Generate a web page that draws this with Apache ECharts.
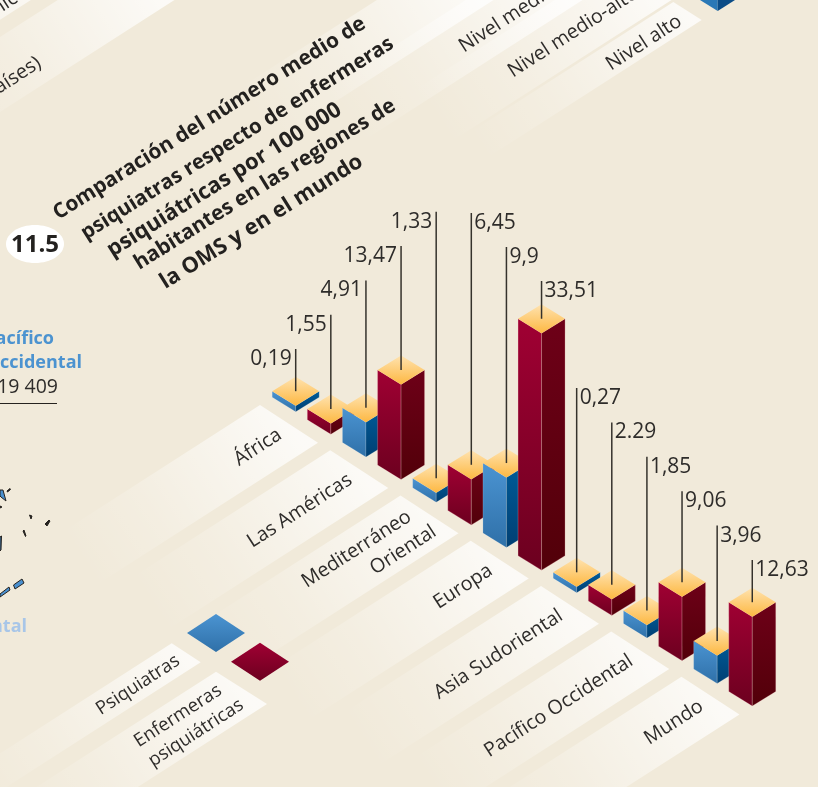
<!DOCTYPE html>
<html>
<head>
<meta charset="utf-8">
<title>11.5</title>
<style>
  html, body { margin: 0; padding: 0; background: #F1EADA; }
  #chart { width: 818px; height: 787px; }
</style>
<script src="https://cdn.jsdelivr.net/npm/echarts@6/dist/echarts.min.js"></script>
</head>
<body>
<div id="chart"></div>
<script>
// datos
const categories = ['África', 'Las Américas', 'Mediterráneo\nOriental', 'Europa', 'Asia Sudoriental', 'Pacífico Occidental', 'Mundo'];
const psychiatrists = [0.19, 4.91, 1.33, 9.9, 0.27, 1.85, 3.96];
const nurses = [1.55, 13.47, 6.45, 33.51, 2.29, 9.06, 12.63];
const psychiatristLabels = ['0,19', '4,91', '1,33', '9,9', '0,27', '1,85', '3,96'];
const nurseLabels = ['1,55', '13,47', '6,45', '33,51', '2.29', '9,06', '12,63'];
const titleLines = ['Comparación del número medio de', 'psiquiatras respecto de enfermeras', 'psiquiátricas por 100 000', 'habitantes en las regiones de', 'la OMS y en el mundo'];

// isometric projection
const STEP_Y = 22.64;     // each bar slides down this much
const HALF_W = 23.5;
const HALF_H = 14.5;
const MIN_H = 6;          // thin bars keep a visible side, like barMinHeight
const ANGLE = 32.8 * Math.PI / 180;
const TITLE_ANGLE = 32 * Math.PI / 180;
const FONT = '"Open Sans", sans-serif';
const BG = '#F1EADA';
const LABEL_SIZE = 19.7;

const bars = [];
categories.forEach((c, i) => {
  bars.push([i * 2, psychiatrists[i], 0, psychiatristLabels[i]]);
  bars.push([i * 2 + 1, nurses[i], 1, nurseLabels[i]]);
});

function vGrad(a, b) {
  return new echarts.graphic.LinearGradient(0, 0, 0, 1, [{offset: 0, color: a}, {offset: 1, color: b}]);
}

const faces = [
  {left: ['#4B94D2', '#2F70A8'], right: ['#005C99', '#003F73']},
  {left: ['#A00033', '#6C001F'], right: ['#6E0018', '#520009']}
];

// the three groups of leader lines climb and fall in steps
function leaderTop(i) {
  if (i <= 4) return 349 - 34.3 * i;
  if (i <= 7) return 213 + 34 * (i - 5);
  return 388 + 34.4 * (i - 8);
}

function renderBar(params, api) {
  const i = api.value(0);
  const kind = api.value(2);
  const base = api.coord([i, 0]);
  const x = base[0];
  const yb = base[1] + i * STEP_Y;
  const h = Math.max(base[1] - api.coord([i, api.value(1)])[1], MIN_H);
  const yt = yb - h;
  const edge = kind ? 'rgba(255,205,205,0.4)' : 'rgba(255,255,255,0.25)';
  const top = leaderTop(i);
  const onLeft = i <= 4;
  return {
    type: 'group',
    children: [
      {type: 'polygon', shape: {points: [[x - HALF_W, yt - HALF_H], [x, yt], [x, yb], [x - HALF_W, yb - HALF_H]]},
        style: {fill: vGrad(faces[kind].left[0], faces[kind].left[1]), stroke: edge, lineWidth: 0.6}},
      {type: 'polygon', shape: {points: [[x, yt], [x + HALF_W, yt - HALF_H], [x + HALF_W, yb - HALF_H], [x, yb]]},
        style: {fill: vGrad(faces[kind].right[0], faces[kind].right[1]), stroke: edge, lineWidth: 0.6}},
      {type: 'polygon', shape: {points: [[x, yt - 2 * HALF_H], [x + HALF_W, yt - HALF_H], [x, yt], [x - HALF_W, yt - HALF_H]]},
        style: {fill: vGrad('#FFE3B0', '#FDB842')}},
      {type: 'line', shape: {x1: x, y1: top, x2: x, y2: yt - HALF_H},
        style: {stroke: '#35322C', lineWidth: 1.5}},
      {type: 'text', style: {
        x: onLeft ? x - 4 : x + 3, y: top + 10,
        text: api.value(3), align: onLeft ? 'right' : 'left', verticalAlign: 'middle',
        fontFamily: FONT, fontSize: 21, fill: '#2E2C2A'
      }}
    ]
  };
}

function stripFill(tx, ty) {
  return new echarts.graphic.LinearGradient(tx, ty, tx - 210, ty + 135, [
    {offset: 0, color: 'rgba(255,255,255,0.78)'},
    {offset: 0.3, color: 'rgba(255,255,255,0.5)'},
    {offset: 0.65, color: 'rgba(255,255,255,0.2)'},
    {offset: 1, color: 'rgba(255,255,255,0)'}
  ], true);
}

function stripPoints(tx, ty, w, h) {
  return [[tx, ty], [tx + w, ty + h], [tx + w - 260, ty + h + 167], [tx - 260, ty + 167]];
}

function renderStrip(params, api) {
  const i = api.value(0);
  const base = api.coord([i, 0]);
  const tx = base[0] - 35.7;
  const ty = base[1] + i * STEP_Y - 6.7;
  const lines = categories[i / 2].split('\n');
  const two = lines.length > 1;
  const ex = tx + 20;
  const ey = ty + 28;
  const children = [{
    type: 'polygon', shape: {points: stripPoints(tx, ty, 58, 37.7)},
    style: {fill: stripFill(tx + 29, ty + 19)}
  }];
  lines.forEach((text, j) => {
    // the two line label is not flush right in the original
    const back = (lines.length - 1 - j) * 13 - (two ? 8.3 : 0);
    const perp = (j - (lines.length - 1) / 2) * 26;
    children.push({
      type: 'text',
      x: ex - back * Math.cos(ANGLE) + perp * Math.sin(ANGLE),
      y: ey + back * Math.sin(ANGLE) + perp * Math.cos(ANGLE),
      rotation: ANGLE,
      style: {text: text, x: 0, y: 0, align: 'right', verticalAlign: 'middle', fontFamily: FONT, fontSize: LABEL_SIZE, fill: '#2E2C2A'}
    });
  });
  return {type: 'group', children: children};
}

function rotText(text, x, y, opts) {
  return {
    type: 'text', x: x, y: y, rotation: ANGLE, z: 5,
    style: Object.assign({text: text, x: 0, y: 0, align: 'left', verticalAlign: 'middle',
      fontFamily: FONT, fontSize: LABEL_SIZE, fill: '#2E2C2A'}, opts || {})
  };
}

function plainText(text, x, y, opts) {
  return {
    type: 'text', z: 5,
    style: Object.assign({text: text, x: x, y: y, align: 'right', verticalAlign: 'middle',
      fontFamily: FONT, fontSize: 18, fill: '#2E2C2A'}, opts || {})
  };
}

function strip(tx, ty, w, h) {
  return {type: 'polygon', z: 1, shape: {points: stripPoints(tx, ty, w, h)}, style: {fill: stripFill(tx + w / 2, ty + h / 2)}};
}

function diamond(cx, cy, colors) {
  return {type: 'polygon', z: 3, shape: {points: [[cx, cy - 19], [cx + 29, cy], [cx, cy + 19], [cx - 29, cy]]},
    style: {fill: vGrad(colors[0], colors[1])}};
}

function mark(points, fill) {
  return {type: 'polygon', z: 3, shape: {points: points}, style: {fill: fill, stroke: '#26231F', lineWidth: 1}};
}

const titleStart = [[55, 215], [83, 235], [109, 252], [136, 265], [162, 284]];
const titleSizes = [20.8, 20.5, 22, 20.8, 21.8];
const graphics = [
  // restos de los paneles vecinos
  strip(673.3, 2, 28.4, 18),
  strip(614, -38, 58, 37.7),
  strip(525, -38, 58, 37.7),
  strip(436, -38, 58, 37.7),
  strip(120, -40, 58, 37.7),
  strip(32, -40, 30, 20),
  rotText('Nivel alto', 608, 66),
  rotText('Nivel medio-alto', 510, 73),
  rotText('Nivel medio-bajo', 461, 48),
  rotText('(países)', -19, 99),
  rotText('Técnicos', -33, 28),
  {type: 'polygon', z: 3, shape: {points: [[700, 0], [717.7, 11], [717.7, -10]]}, style: {fill: '#2A78B6'}},
  {type: 'polygon', z: 3, shape: {points: [[717.7, 11], [735, 0], [717.7, -10]]}, style: {fill: '#0B4C86'}},
  plainText('Pacífico', 54, 339, {fontWeight: 700, fill: '#4C93D0'}),
  plainText('Occidental', 82, 362.5, {fontWeight: 700, fill: '#4C93D0'}),
  plainText('19 409', 58, 387, {fontSize: 19.5}),
  {type: 'line', z: 3, shape: {x1: 0, y1: 403.5, x2: 57, y2: 403.5}, style: {stroke: '#26231F', lineWidth: 1}},
  plainText('Occidental', 27, 627, {fontWeight: 700, fill: '#A8C6E8'}),
  mark([[0, 490], [3, 490], [6, 501], [1, 497], [0, 496]], '#4A90CF'),
  mark([[7, 491], [10, 488.5], [10.5, 489.5], [7.5, 492]], '#26231F'),
  mark([[0, 506], [2, 507], [0, 508]], '#26231F'),
  mark([[29.5, 515], [32, 516], [31, 519]], '#26231F'),
  mark([[45, 524], [49, 520], [50, 521], [47, 526]], '#26231F'),
  mark([[23, 531], [24, 530], [26, 536], [25.5, 536.5]], '#26231F'),
  mark([[0, 537], [1.5, 536], [1, 550], [0, 551]], '#4A90CF'),
  mark([[13.5, 585], [22, 579], [24, 583], [15, 589]], '#4A90CF'),
  mark([[0, 594], [9, 587], [10, 590], [0, 597]], '#4A90CF'),
  // numero de la figura
  {type: 'ellipse', z: 3, shape: {cx: 35, cy: 244, rx: 29, ry: 19}, style: {fill: '#FFFFFF'}},
  plainText('11.5', 35, 245, {align: 'center', fontSize: 24, fontWeight: 700, fill: '#23211F'}),
  // leyenda
  strip(171.7, 643.3, 29, 19),
  strip(216, 671.7, 51, 32.3),
  diamond(216, 633, ['#4B94D2', '#2F70A8']),
  diamond(260, 661.7, ['#A00033', '#6C001F']),
  rotText('Psiquiatras', 138, 685, {align: 'center', fontSize: 18.5}),
  rotText('Enfermeras', 178, 716, {align: 'center', fontSize: 18.5}),
  rotText('psiquiátricas', 196, 733, {align: 'center', fontSize: 18.5})
];
titleLines.forEach((line, i) => {
  const t = rotText(line, titleStart[i][0], titleStart[i][1], {fontSize: titleSizes[i], fontWeight: 700, fill: '#23211F'});
  t.rotation = TITLE_ANGLE;
  graphics.push(t);
});

const chart = echarts.init(document.getElementById('chart'));
chart.setOption({
  animation: false,
  backgroundColor: BG,
  grid: {left: 278.14, top: 22.85, width: 491.7, height: 388.85},
  xAxis: {type: 'category', show: false, data: bars.map(b => b[0])},
  yAxis: {type: 'value', show: false, min: 0, max: 55},
  graphic: graphics,
  series: [
    {
      type: 'custom', name: 'regiones', z: 1, clip: false, silent: true,
      encode: {x: 0, y: 1},
      data: categories.map((c, i) => [i * 2, 0]),
      renderItem: renderStrip
    },
    {
      type: 'custom', name: 'barras', z: 2, clip: false, silent: true,
      encode: {x: 0, y: 1},
      data: bars,
      renderItem: renderBar
    }
  ]
});
</script>
</body>
</html>
